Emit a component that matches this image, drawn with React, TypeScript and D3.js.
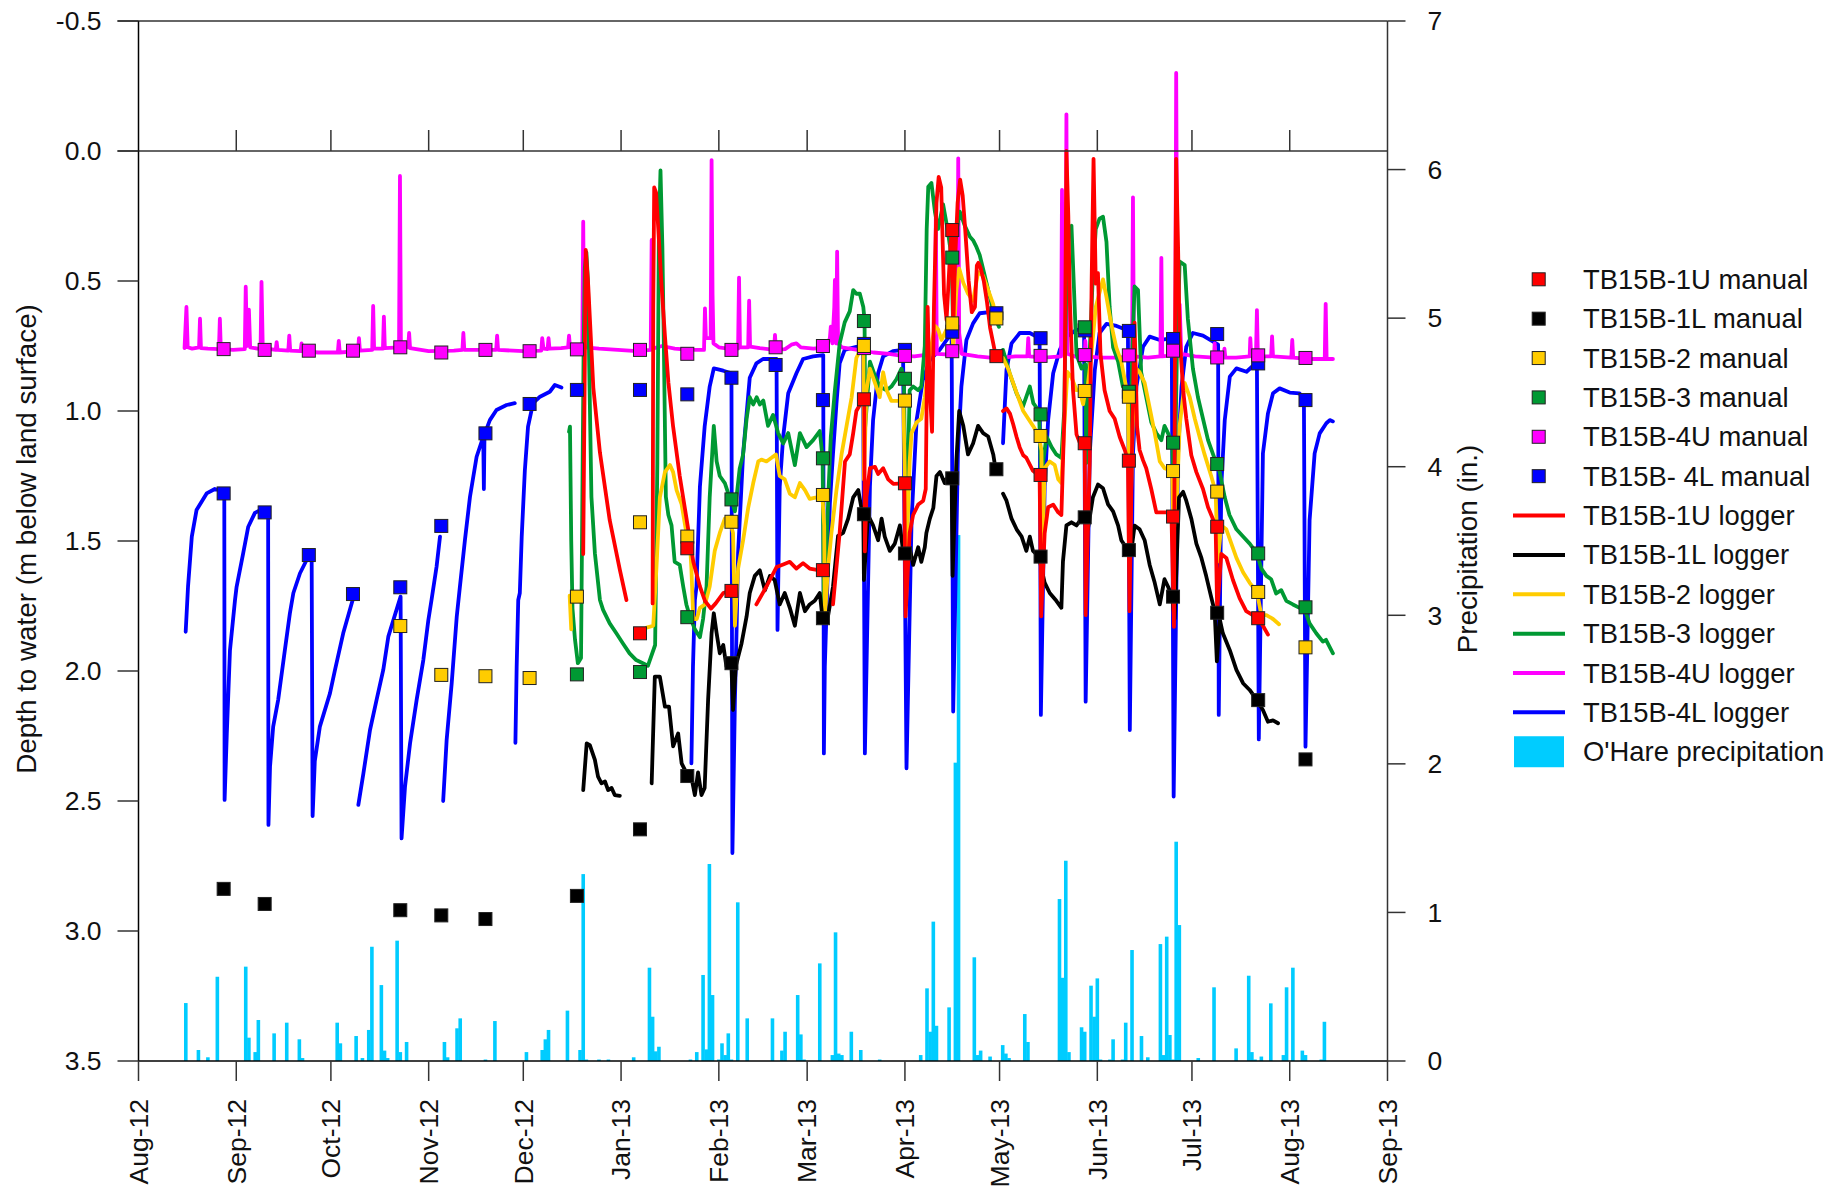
import React from 'react';
import * as d3 from 'd3';

// Groundwater depth at TB15B wells, Aug 2012 - Aug 2013
// logger/precip times are days after 1 Aug 2012

const manualDates = ['2012-08-28', '2012-09-10', '2012-09-24', '2012-10-08', '2012-10-23', '2012-11-05', '2012-11-19', '2012-12-03', '2012-12-18', '2013-01-07', '2013-01-22', '2013-02-05', '2013-02-19', '2013-03-06', '2013-03-19', '2013-04-01', '2013-04-16', '2013-04-30', '2013-05-14', '2013-05-28', '2013-06-11', '2013-06-25', '2013-07-09', '2013-07-22', '2013-08-06'];

const manual1U = [null, null, null, null, null, null, null, null, null, 1.855, 1.528, 1.692, null, 1.612, 0.955, 1.278, 0.304, 0.789, 1.246, 1.124, 1.191, 1.406, 1.445, 1.797, null];
const manual1L = [2.838, 2.896, null, null, 2.92, 2.94, 2.954, null, 2.865, 2.609, 2.404, 1.97, null, 1.797, 1.397, 1.548, 1.259, 1.224, 1.56, 1.409, 1.535, 1.714, 1.776, 2.112, 2.34];
const manual2 = [null, null, null, null, 1.827, 2.015, 2.02, 2.027, 1.714, 1.428, 1.483, 1.426, null, 1.323, 0.75, 0.96, 0.663, 0.644, 1.096, 0.923, 0.945, 1.231, 1.31, 1.696, 1.909];
const manual3 = [null, null, null, null, null, null, null, null, 2.013, 2.004, 1.793, 1.34, null, 1.182, 0.654, 0.876, 0.41, null, 1.013, 0.678, 0.926, 1.122, 1.204, 1.548, 1.755];
const manual4U = [0.762, 0.765, 0.768, 0.768, 0.755, 0.775, 0.765, 0.77, 0.763, 0.765, 0.78, 0.765, 0.755, 0.75, 0.758, 0.788, 0.77, null, 0.788, 0.785, 0.786, 0.768, 0.794, 0.786, 0.796];
const manual4L = [1.317, 1.39, 1.554, 1.704, 1.678, 1.442, 1.086, 0.973, 0.919, 0.919, 0.936, 0.872, 0.823, 0.958, 0.742, 0.765, 0.695, 0.624, 0.72, 0.69, 0.692, 0.723, 0.704, 0.817, 0.958];

const logger4L = [
  [[14.96, 1.849], [15.7, 1.676], [16.9, 1.483], [18.4, 1.381], [21.6, 1.317], [24.2, 1.3], [27.2, 1.31], [27.3, 2.496], [28, 2.24], [29, 1.92], [30.6, 1.727], [31.1, 1.676], [33.2, 1.547], [34.8, 1.445], [36.9, 1.392], [39.6, 1.375], [41.1, 1.38], [41.2, 2.592], [41.7, 2.368], [42.7, 2.214], [44.3, 2.11], [46.4, 1.92], [48, 1.778], [49.1, 1.7], [51.2, 1.624], [53.3, 1.573], [54.9, 1.56], [55.2, 2.558], [55.9, 2.346], [57.5, 2.214], [60.7, 2.086], [62.3, 1.996], [64.9, 1.855], [67.9, 1.727]],
  [[69.7, 2.515], [71.3, 2.394], [73.4, 2.227], [75.5, 2.11], [77.6, 1.996], [79.2, 1.868], [81.8, 1.765], [83.1, 1.714], [83.4, 2.644], [84.5, 2.445], [86.1, 2.278], [88.2, 2.11], [90.3, 1.958], [91.9, 1.804], [92.9, 1.727], [94.5, 1.599], [95.6, 1.483]],
  [[96.6, 2.5], [97.7, 2.265], [99.3, 2.047], [100.9, 1.791], [101.9, 1.676], [103.5, 1.496], [105.1, 1.33], [107.2, 1.176], [109.3, 1.099], [109.5, 1.3], [109.7, 1.09], [111.4, 1.035], [113.5, 0.996], [116.7, 0.977], [119.3, 0.97]],
  [[119.5, 2.276], [119.9, 1.983], [120.4, 1.727], [120.9, 1.7], [121.5, 1.483], [122.5, 1.227], [123.5, 1.06], [125.1, 0.97], [127.3, 0.945], [130.4, 0.926], [132, 0.9], [134.1, 0.91]],
  [[175.3, 2.355], [175.8, 1.983], [176.4, 1.727], [176.9, 1.676], [178, 1.291], [179.5, 1.06], [181.1, 0.906], [182.4, 0.836], [183.8, 0.84], [185.4, 0.845], [188, 0.855], [188.3, 2.7], [189.1, 2.11], [189.6, 1.855], [190.1, 1.547], [191.7, 1.163], [193.8, 0.872], [195.9, 0.817], [198, 0.8], [200.2, 0.8], [202.3, 0.8], [202.6, 1.842], [203.3, 1.291], [204.4, 1.099], [206, 0.932], [208.6, 0.855], [210.7, 0.8], [213.9, 0.79], [217.1, 0.785], [217.3, 2.317], [217.6, 1.983], [219.2, 1.355], [220.2, 1.163], [221.3, 0.97], [222.3, 0.817], [223.9, 0.765], [227.6, 0.753], [229.7, 0.75], [230.3, 2.317], [231.9, 1.29], [232.9, 1.035], [234.5, 0.855], [236.1, 0.79], [239.2, 0.77], [242.4, 0.765], [243.5, 2.374], [245.1, 1.42], [246.7, 1.035], [248.7, 0.88], [250.9, 0.804], [254, 0.765], [257.8, 0.7], [258.3, 2.156], [259.8, 1.163], [260.9, 0.906], [262.5, 0.727], [264.6, 0.663], [266.7, 0.624], [269.9, 0.62], [271.7, 0.62]],
  [[274.1, 1.124], [275.2, 0.842], [276.8, 0.74], [279.4, 0.7], [282.6, 0.7], [285.7, 0.72], [286.1, 2.169], [287.3, 1.29], [288.4, 1.035], [290, 0.855], [292.1, 0.765], [294.2, 0.714], [297.4, 0.688], [299.8, 0.685], [300.3, 2.118], [301.6, 1.163], [303.2, 0.842], [304.7, 0.7], [306.9, 0.665], [310.1, 0.673], [313.7, 0.69], [314.3, 2.227], [315.3, 1.163], [316.4, 0.906], [318.5, 0.753], [320.6, 0.714], [323.8, 0.727], [327.6, 0.72], [328.2, 2.483], [329.6, 1.163], [330.7, 0.906], [332.2, 0.753], [334.3, 0.7], [337.5, 0.71], [340.7, 0.733], [342.3, 0.745], [342.5, 2.169], [343.3, 1.29], [344.4, 1.035], [346, 0.868], [348.1, 0.836], [351.3, 0.849], [353.3, 0.827], [354.6, 0.817], [355.2, 2.263], [356.5, 1.163], [358.1, 1.009], [359.7, 0.932], [361.8, 0.913], [365, 0.929], [368.1, 0.932], [369.5, 0.958], [370, 2.291], [371.3, 1.42], [372.9, 1.163], [374.5, 1.086], [376.6, 1.047], [377.7, 1.035], [378.7, 1.04]]
];

const logger4U = [
  [[14.6, 0.758], [15.2, 0.6], [15.6, 0.755], [17, 0.76], [19.2, 0.755], [19.5, 0.645], [19.8, 0.758], [22, 0.76], [25.5, 0.762], [25.8, 0.645], [26.1, 0.762], [30, 0.765], [33.7, 0.762], [34, 0.522], [34.4, 0.75], [35, 0.61], [35.4, 0.755], [38.7, 0.762], [39, 0.503], [39.4, 0.758], [43.5, 0.765], [43.8, 0.735], [44.1, 0.765], [47.5, 0.768], [47.8, 0.71], [48.1, 0.768], [51.4, 0.77], [51.7, 0.74], [52, 0.77], [57, 0.775], [63.2, 0.775], [63.5, 0.73], [63.8, 0.775], [69.6, 0.77], [69.9, 0.72], [70.2, 0.768], [74.1, 0.765], [74.4, 0.596], [74.7, 0.76], [77.5, 0.76], [77.8, 0.637], [78.1, 0.758], [82.6, 0.755], [82.9, 0.096], [83.2, 0.752], [85.5, 0.755], [85.8, 0.7], [86.1, 0.758], [92, 0.77], [100, 0.768], [102.7, 0.765], [103, 0.7], [103.3, 0.765], [108, 0.765], [113.4, 0.765], [113.7, 0.71], [114, 0.765], [122, 0.77], [127.7, 0.768], [128, 0.72], [128.4, 0.76], [129.7, 0.762], [130, 0.72], [130.3, 0.76], [134, 0.758], [136.2, 0.755], [136.5, 0.71], [136.8, 0.755], [140.7, 0.758], [141, 0.272], [141.3, 0.73], [141.6, 0.755], [146, 0.76], [152, 0.765], [158, 0.77], [162.4, 0.765], [162.7, 0.342], [163, 0.76], [166, 0.75], [170, 0.76], [175, 0.765], [179.3, 0.765], [179.6, 0.605], [179.9, 0.72], [181.4, 0.72], [181.7, 0.035], [182, 0.55], [182.3, 0.74], [184, 0.755], [188, 0.762], [190.1, 0.76], [190.4, 0.487], [190.7, 0.755], [193.3, 0.755], [193.6, 0.576], [193.9, 0.752], [197, 0.758], [201.5, 0.765], [201.8, 0.707], [202.1, 0.765], [205, 0.762], [207, 0.745], [208.6, 0.74], [210, 0.755], [214, 0.76], [218, 0.755], [219.2, 0.72], [219.5, 0.676], [220, 0.74], [220.6, 0.6], [220.8, 0.496], [221.2, 0.74], [221.5, 0.387], [221.8, 0.74], [223, 0.755], [228, 0.765], [233, 0.775], [238, 0.78], [242, 0.788], [246, 0.79], [249, 0.785], [252.5, 0.78], [252.8, 0.25], [253.1, 0.78], [256, 0.782], [259.6, 0.78], [259.9, 0.028], [260.2, 0.7], [261, 0.78], [266, 0.79], [270, 0.795], [274, 0.795], [278, 0.79], [281.8, 0.79], [282.1, 0.72], [282.4, 0.79], [287, 0.795], [292.5, 0.79], [292.8, 0.15], [293.1, 0.78], [293.9, 0.78], [294.2, -0.141], [294.5, 0.78], [298, 0.795], [300, 0.79], [300.2, 0.73], [300.5, 0.79], [305, 0.795], [310, 0.795], [315, 0.79], [315.3, 0.178], [315.6, 0.79], [320, 0.795], [324, 0.79], [324.3, 0.411], [324.6, 0.79], [328.7, 0.785], [329, -0.3], [329.4, 0.77], [330.1, 0.59], [330.6, 0.78], [335, 0.79], [341, 0.795], [341.2, 0.74], [341.5, 0.795], [344, 0.795], [344.3, 0.76], [344.6, 0.795], [348, 0.795], [352.3, 0.79], [352.5, 0.72], [352.8, 0.79], [354.3, 0.79], [354.6, 0.612], [354.9, 0.79], [359.1, 0.79], [359.4, 0.713], [359.7, 0.79], [365.5, 0.795], [365.8, 0.727], [366.1, 0.795], [371, 0.8], [376.1, 0.8], [376.4, 0.588], [376.7, 0.8], [378.7, 0.8]]
];

const logger3 = [
  [[136.5, 1.08], [136.8, 1.06], [137.2, 1.5], [137.6, 1.76], [138.4, 1.88], [139.3, 1.97], [140.3, 1.95], [141.1, 0.8], [141.5, 0.45], [142, 0.39], [142.5, 0.5], [143, 0.9], [143.6, 1.33], [144.7, 1.547], [146.3, 1.727], [147.3, 1.765], [149.4, 1.817], [151.5, 1.855], [153.6, 1.894], [155.7, 1.932], [157.8, 1.958], [159.9, 1.97], [161.5, 1.98], [163.8, 1.9], [164.5, 1.2], [165, 0.3], [165.5, 0.075], [166.1, 0.37], [166.6, 0.78], [167.2, 1.33], [168, 1.4], [169, 1.44], [170, 1.58], [171.6, 1.592], [172.7, 1.675], [173.7, 1.744], [174.8, 1.79], [176.4, 1.84], [178, 1.87], [179, 1.8], [180.1, 1.675], [181.1, 1.332], [182.4, 1.057], [183.3, 1.194], [184.3, 1.25], [185.9, 1.277], [187, 1.318], [188, 1.34], [189.1, 1.386], [190.6, 1.222], [191.7, 1.167], [192.8, 1.03], [193.8, 0.947], [194.9, 0.975], [196, 0.947], [197, 0.975], [198.1, 0.96], [199.6, 1.057], [201.2, 1.015], [202.8, 1.085], [204.4, 1.125], [206, 1.085], [208.1, 1.208], [209.7, 1.085], [211.8, 1.139], [213.9, 1.112], [216, 1.077], [216.9, 1.18], [217.3, 1.8], [218.8, 1.3], [219.5, 1.1], [220.8, 0.92], [222.3, 0.741], [223.9, 0.659], [225.5, 0.617], [226.6, 0.535], [227.6, 0.549], [228.7, 0.549], [229.8, 0.6], [230.2, 0.65], [230.4, 1.06], [231.9, 0.81], [233.5, 0.865], [235, 0.906], [237.2, 0.92], [238.7, 0.906], [240.3, 0.878], [241.9, 0.837], [242.7, 0.87], [243.3, 1.58], [244.5, 0.92], [245.6, 0.906], [247.2, 0.92], [248.2, 0.906], [249.3, 0.75], [249.9, 0.3], [250.4, 0.137], [251.4, 0.123], [252.5, 0.233], [253.5, 0.3], [255.1, 0.205], [256.5, 0.3], [257.8, 0.41], [258.3, 0.7], [258.8, 0.343], [260.4, 0.233], [262, 0.288], [263.6, 0.33], [264.6, 0.343], [265.7, 0.37], [266.7, 0.4], [268.3, 0.48], [269.9, 0.56], [271.5, 0.64], [272.8, 0.676]],
  [[274.1, 0.765], [276.2, 0.855], [278.4, 0.932], [280.4, 0.983], [282.6, 0.906], [283.7, 0.97], [285.5, 1.0], [286.2, 1.25], [287.9, 1.098], [289.5, 1.139], [291, 1.167], [292.6, 1.18], [293.5, 1.0], [294.4, 0.35], [294.7, 0.3], [295.8, 0.288], [296.5, 0.5], [297.4, 0.782], [299, 0.837], [300.2, 0.82], [300.5, 1.2], [301.5, 0.8], [302.5, 0.5], [303.5, 0.3], [304.7, 0.26], [305.8, 0.253], [306.9, 0.35], [307.9, 0.6], [309, 0.755], [310.6, 0.81], [312.1, 0.906], [313.7, 0.93], [314.3, 1.3], [315, 0.8], [315.8, 0.521], [316.9, 0.535], [317.9, 0.851], [319.5, 0.947], [321.1, 1.043], [322.7, 1.085], [324.3, 1.112], [325.3, 1.057], [326.4, 1.085], [327.7, 1.12], [328.4, 1.4], [329.2, 0.8], [330.1, 0.425], [331.7, 0.439], [332.7, 0.645], [334.3, 0.837], [335.9, 0.947], [337.5, 1.03], [339.1, 1.112], [340.7, 1.167], [341.7, 1.2], [342.8, 1.235], [344.4, 1.332], [345.9, 1.4], [348.1, 1.455], [350.2, 1.483], [352.3, 1.51], [354.6, 1.548], [356, 1.606], [357.6, 1.634], [359.1, 1.647], [360.7, 1.702], [362.3, 1.689], [363.9, 1.73], [366, 1.744], [368.1, 1.757], [369.5, 1.755], [371.3, 1.817], [373.4, 1.855], [375.5, 1.887], [376.5, 1.88], [378.7, 1.932]]
];

const logger2 = [
  [[136.7, 1.71], [137.2, 1.84]],
  [[161.1, 1.833], [163.2, 1.826], [164.2, 1.606], [165.3, 1.332], [166.9, 1.235], [168.5, 1.208], [169.5, 1.235], [170.6, 1.304], [172.2, 1.359], [173.7, 1.469], [174.8, 1.5], [175.3, 1.606], [175.9, 1.8], [177, 1.8], [178, 1.757], [179.6, 1.744], [181.1, 1.675], [182.7, 1.538], [184.3, 1.469], [185.9, 1.414], [187.5, 1.42], [188.5, 1.469], [189.1, 1.826], [190.1, 1.606], [191.7, 1.497], [193.3, 1.373], [194.9, 1.277], [196.5, 1.194], [197.5, 1.187], [199.1, 1.194], [200.7, 1.18], [202.1, 1.167], [203.3, 1.25], [204.9, 1.263], [206.5, 1.318], [208.1, 1.332], [209.7, 1.277], [211.3, 1.304], [212.8, 1.338], [215, 1.332], [216.8, 1.323], [217.4, 1.44], [217.6, 1.8], [218.6, 1.606], [219.7, 1.469], [221.3, 1.304], [222.9, 1.167], [224.5, 1.057], [226.1, 0.947], [227.6, 0.796], [229.2, 0.755], [229.8, 0.755], [230, 1.263], [230.8, 0.92], [231.9, 0.837], [233.5, 0.892], [235, 0.947], [236.1, 0.851], [237.2, 0.92], [238.7, 0.961], [240.3, 0.961], [242.5, 0.96], [243.5, 1.579], [244.5, 1.194], [245.1, 1.085], [246.7, 1.043], [248.2, 1.03], [249.3, 0.947], [250.9, 0.782], [252.5, 0.672], [253.5, 0.686], [254.6, 0.727], [256.2, 0.686], [257.8, 0.663], [258.3, 0.75], [259.3, 0.535], [260.2, 0.452], [261.5, 0.507], [263, 0.549], [264.6, 0.576], [266.2, 0.466], [267.8, 0.48], [269.4, 0.535], [271, 0.59], [271.7, 0.64]],
  [[274.1, 0.796], [275.7, 0.837], [277.3, 0.892], [278.9, 0.947], [280.5, 1.0], [282.1, 1.03], [283.6, 1.057], [285.5, 1.096], [286.3, 1.153], [286.6, 1.58], [287.3, 1.22], [288.9, 1.194], [290.5, 1.208], [291.6, 1.263], [292.6, 1.277], [293.4, 1.085], [294.5, 0.85], [295.8, 0.87], [297.4, 0.92], [298.4, 0.92], [299.5, 0.974], [300.2, 0.92], [301, 0.9], [302.1, 0.782], [303.5, 0.6], [305.8, 0.494], [306.9, 0.562], [307.9, 0.631], [309, 0.7], [310, 0.755], [311.6, 0.81], [313.7, 0.945], [314.3, 1.5], [315.3, 1.03], [316.4, 0.837], [317.4, 0.851], [319, 0.892], [320.6, 0.988], [322.2, 1.085], [323.8, 1.194], [325.3, 1.22], [327.7, 1.231], [328.4, 1.6], [330.1, 1.057], [331.7, 0.892], [333.3, 0.947], [334.9, 1.03], [336.4, 1.098], [338, 1.167], [340.1, 1.25], [341.5, 1.31], [342.2, 1.579], [343.3, 1.441], [344.9, 1.455], [346.5, 1.51], [348.1, 1.565], [350.2, 1.62], [352.3, 1.661], [354.6, 1.696], [356, 1.785], [357.6, 1.785], [359.7, 1.8], [361.6, 1.82]]
];

const logger1L = [
  [[141, 2.458], [142.1, 2.278], [143.1, 2.285], [144.7, 2.342], [145.7, 2.406], [146.8, 2.432], [147.9, 2.425], [148.9, 2.458], [150, 2.45], [151, 2.477], [152.6, 2.48]],
  [[162.7, 2.432], [163.7, 2.022], [165.3, 2.022], [166.9, 2.137], [168.2, 2.137], [169.5, 2.29], [171.1, 2.24], [172.2, 2.355], [173.8, 2.394], [175, 2.39], [176.4, 2.477], [177.4, 2.39], [178.5, 2.477], [179.5, 2.45], [180.6, 2.11], [181.7, 1.855], [182.4, 1.778], [183.3, 1.855], [184.3, 1.932], [185.4, 1.9], [186.4, 1.983], [187.9, 1.95], [188.5, 2.15], [189.4, 1.98], [191.2, 1.894], [192.8, 1.79], [193.8, 1.7], [195.4, 1.634], [197, 1.613], [198.6, 1.69], [200.2, 1.634], [201.7, 1.65], [203.3, 1.744], [204.9, 1.7], [206.5, 1.757], [208.1, 1.826], [209.7, 1.7], [211.3, 1.77], [212.8, 1.744], [214.4, 1.73], [216, 1.7], [216.9, 1.8], [218.6, 1.79], [220.2, 1.675], [221.8, 1.48], [223.4, 1.469], [225, 1.414], [226.6, 1.332], [228.2, 1.304], [229.2, 1.373], [229.8, 1.39], [230, 1.65], [231.3, 1.4], [232.9, 1.44], [234.5, 1.497], [235.6, 1.414], [236.6, 1.483], [238.2, 1.538], [239.8, 1.51], [241.4, 1.44], [242.4, 1.538], [243.5, 1.565], [244.5, 1.524], [245.6, 1.592], [247.2, 1.524], [248.2, 1.58], [249.3, 1.524], [249.8, 1.469], [250.9, 1.414], [252, 1.373], [253, 1.25], [254.1, 1.235], [255.6, 1.277], [256.7, 1.25], [257.8, 1.25], [258.1, 1.634], [259.3, 1.194], [260.2, 1.0], [261.5, 1.057], [263, 1.167], [264.6, 1.125], [266.2, 1.057], [267.8, 1.085], [269.4, 1.098], [271, 1.167], [271.7, 1.22]],
  [[274.1, 1.318], [275.2, 1.345], [276.8, 1.414], [278.4, 1.455], [280, 1.483], [281.5, 1.538], [282.6, 1.483], [283.6, 1.538], [285.5, 1.56], [286.3, 1.606], [287.3, 1.66], [288.9, 1.7], [291, 1.73], [292.6, 1.757], [293.1, 1.579], [294.2, 1.44], [295.8, 1.428], [297.4, 1.44], [299, 1.414], [300, 1.41], [301, 1.455], [302.6, 1.332], [304.2, 1.283], [305.8, 1.297], [307.4, 1.359], [309, 1.386], [310.6, 1.441], [311.6, 1.497], [313.7, 1.535], [314.8, 1.538], [315.8, 1.441], [317.4, 1.455], [319, 1.497], [320.6, 1.592], [322.2, 1.661], [323.8, 1.744], [325.3, 1.647], [326.4, 1.675], [327.7, 1.714], [328.5, 1.8], [329.9, 1.332], [331.2, 1.311], [332.2, 1.345], [333.8, 1.414], [335.4, 1.51], [337, 1.565], [338.5, 1.634], [340.1, 1.716], [341.2, 1.77], [341.9, 1.963], [342.8, 1.8], [343.8, 1.855], [346, 1.92], [348.1, 1.996], [350.2, 2.047], [352.3, 2.073], [354.6, 2.112], [356.5, 2.15], [358.1, 2.195], [359.7, 2.19], [361.3, 2.201]]
];

const logger1U = [
  [[141, 1.55], [141.8, 0.38], [142.6, 0.52], [144.2, 0.91], [146.3, 1.16], [149.4, 1.42], [152.6, 1.61], [154.7, 1.727]],
  [[163, 1.74], [163.2, 0.6], [163.5, 0.14], [164.1, 0.16], [164.8, 0.3], [165.8, 0.51], [166.9, 0.71], [168, 0.89], [169.5, 1.06], [171.6, 1.25], [173.7, 1.41], [175.9, 1.58], [178, 1.675], [179.6, 1.73], [181.5, 1.76], [183, 1.74], [185.4, 1.7], [188, 1.69]],
  [[195.9, 1.744], [199.1, 1.675], [202.3, 1.6], [204.4, 1.59], [206.5, 1.58], [208.6, 1.606], [210.7, 1.585], [212.8, 1.606], [216, 1.613]],
  [[220.2, 1.744], [222.3, 1.469], [224, 1.194], [225.5, 1.167], [226.6, 1.085], [227.6, 1.0], [229.5, 0.96], [230.1, 0.95], [230.3, 1.54], [230.8, 1.33], [231.9, 1.22], [233.5, 1.215], [234.5, 1.242], [236.1, 1.22], [237.7, 1.263], [239.3, 1.28], [242.8, 1.278], [243.2, 1.79], [244.5, 1.469], [245.6, 1.4], [247.2, 1.36], [248.8, 1.345], [249.6, 1.3], [250.2, 0.6], [250.8, 0.9], [251.6, 1.08], [252.2, 0.6], [253, 0.2], [253.7, 0.1], [254.5, 0.14], [255.4, 0.55], [256.2, 0.65], [257.5, 0.35], [258, 0.3], [258.3, 0.7], [258.8, 0.45], [259.7, 0.2], [260.5, 0.11], [261.3, 0.17], [262.1, 0.3], [263.2, 0.5], [264.2, 0.62], [265.2, 0.6], [265.8, 0.44], [266.3, 0.43], [267, 0.45], [268, 0.5], [269, 0.58], [270, 0.68], [271, 0.74], [271.8, 0.79]],
  [[274.1, 1.0], [275.2, 0.99], [276.3, 1.01], [277.3, 1.05], [278.4, 1.1], [279.4, 1.14], [280.5, 1.17], [281.5, 1.18], [283.6, 1.23], [285.7, 1.25], [286.2, 1.79], [287.3, 1.47], [288.4, 1.37], [290, 1.36], [291.6, 1.39], [292.6, 1.4], [293.6, 1.0], [294.2, 0.0], [294.8, 0.25], [295.3, 0.58], [296.3, 0.92], [297.4, 1.09], [299, 1.14], [300, 1.13], [300.3, 1.785], [301.6, 1.19], [302.2, 0.5], [302.8, 0.03], [303.5, 0.51], [304.2, 0.47], [305, 0.78], [306.3, 0.92], [307.9, 1.0], [309.5, 1.03], [311.1, 1.1], [312.7, 1.15], [313.7, 1.19], [314.2, 1.77], [315.1, 1.06], [315.8, 0.66], [316.6, 1.06], [317.4, 1.15], [318.5, 1.19], [319.5, 1.22], [321.1, 1.3], [322.7, 1.39], [324.3, 1.39], [325.9, 1.39], [327.5, 1.4], [328.3, 1.83], [328.6, 0.8], [329, 0.03], [329.6, 0.37], [330.1, 0.71], [331.2, 0.92], [332.2, 1.03], [333.8, 1.17], [335.4, 1.235], [337.5, 1.3], [339.1, 1.37], [341.5, 1.44], [342, 1.77], [343.3, 1.55], [344.9, 1.565], [347, 1.65], [349.1, 1.72], [351.2, 1.77], [353.3, 1.785], [355, 1.8], [356.5, 1.826], [358.1, 1.86]]
];

// O'Hare daily precipitation (in.)
const precip = [[15, 0.39], [19, 0.074], [22, 0.025], [25, 0.567], [34, 0.635], [35, 0.157], [37, 0.06], [38, 0.276], [43, 0.186], [47, 0.258], [51, 0.146], [52, 0.02], [63, 0.258], [64, 0.119], [69, 0.168], [71, 0.02], [73, 0.209], [74, 0.769], [77, 0.511], [78, 0.07], [79, 0.02], [82, 0.81], [83, 0.06], [85, 0.128], [97, 0.128], [98, 0.025], [101, 0.22], [102, 0.287], [110, 0.01], [113, 0.269], [123, 0.06], [128, 0.074], [129, 0.146], [130, 0.209], [136, 0.339], [140, 0.074], [141, 1.258], [142, 0.01], [146, 0.01], [149, 0.01], [157, 0.025], [162, 0.628], [163, 0.298], [164, 0.065], [165, 0.096], [175, 0.01], [177, 0.06], [179, 0.579], [180, 0.078], [181, 1.326], [182, 0.444], [184, 0.01], [185, 0.119], [186, 0.04], [187, 0.186], [188, 0.01], [190, 1.068], [193, 0.287], [201, 0.287], [204, 0.07], [205, 0.197], [209, 0.444], [210, 0.179], [211, 0.01], [216, 0.657], [220, 0.04], [221, 0.866], [222, 0.05], [223, 0.04], [226, 0.197], [229, 0.074], [235, 0.01], [248, 0.04], [250, 0.489], [251, 0.197], [252, 0.938], [253, 0.237], [257, 0.361], [259, 2.008], [260, 3.54], [265, 0.698], [266, 0.04], [267, 0.07], [270, 0.03], [274, 0.107], [275, 0.05], [276, 0.02], [281, 0.316], [282, 0.128], [292, 1.09], [293, 0.56], [294, 1.348], [295, 0.06], [299, 0.227], [300, 0.197], [302, 0.507], [303, 0.298], [304, 0.556], [305, 0.01], [308, 0.01], [309, 0.146], [312, 0.01], [313, 0.258], [315, 0.747], [318, 0.168], [320, 0.025], [324, 0.787], [325, 0.04], [326, 0.837], [327, 0.175], [328, 0.01], [329, 1.476], [330, 0.915], [336, 0.02], [341, 0.496], [348, 0.085], [352, 0.574], [353, 0.06], [354, 0.01], [356, 0.03], [359, 0.388], [363, 0.04], [364, 0.496], [366, 0.628], [369, 0.07], [370, 0.04], [375, 0.01], [376, 0.264]];

const depthTicks = [-0.5, 0, 0.5, 1, 1.5, 2, 2.5, 3, 3.5];
const precipTicks = [0, 1, 2, 3, 4, 5, 6, 7];

const colors = { u1: '#ff0000', l1: '#000000', w2: '#ffcc00', w3: '#009933', u4: '#ff00ff', l4: '#0000ff', rain: '#00ccff' };

const FONT = "'Liberation Sans', Arial, Helvetica, sans-serif";
const t0 = Date.UTC(2012, 7, 1);
const dayToDate = (d: number) => new Date(t0 + d * 864e5);
const parseDate = d3.utcParse('%Y-%m-%d');

export default function App() {
  const W = 1847, H = 1194;
  const left = 138.5, right = 1387.5, top = 21, bottom = 1061;

  const x = d3.scaleUtc().domain([new Date(t0), new Date(Date.UTC(2013, 8, 1))]).range([left, right]);
  const y = d3.scaleLinear().domain([-0.5, 3.5]).range([top, bottom]);
  const yP = d3.scaleLinear().domain([0, 7]).range([bottom, top]);
  const months = d3.utcMonth.range(new Date(t0), new Date(Date.UTC(2013, 8, 2)));
  const fmtMonth = d3.utcFormat('%b-%y');
  const fmtDepth = (t: number) => t.toFixed(1);
  const y0 = y(0);

  const line = d3.line<number[]>().x(p => x(dayToDate(p[0]))).y(p => y(p[1]));

  const loggers = [
    { segs: logger4L, color: colors.l4 },
    { segs: logger4U, color: colors.u4 },
    { segs: logger3, color: colors.w3 },
    { segs: logger2, color: colors.w2 },
    { segs: logger1L, color: colors.l1 },
    { segs: logger1U, color: colors.u1 },
  ];
  const manuals = [
    { vals: manual4L, color: colors.l4 },
    { vals: manual4U, color: colors.u4 },
    { vals: manual3, color: colors.w3 },
    { vals: manual2, color: colors.w2 },
    { vals: manual1L, color: colors.l1 },
    { vals: manual1U, color: colors.u1 },
  ];

  const legend = [
    { label: 'TB15B-1U manual', color: colors.u1, kind: 'sq' },
    { label: 'TB15B-1L manual', color: colors.l1, kind: 'sq' },
    { label: 'TB15B-2 manual', color: colors.w2, kind: 'sq' },
    { label: 'TB15B-3 manual', color: colors.w3, kind: 'sq' },
    { label: 'TB15B-4U manual', color: colors.u4, kind: 'sq' },
    { label: 'TB15B- 4L manual', color: colors.l4, kind: 'sq' },
    { label: 'TB15B-1U logger', color: colors.u1, kind: 'line' },
    { label: 'TB15B-1L logger', color: colors.l1, kind: 'line' },
    { label: 'TB15B-2 logger', color: colors.w2, kind: 'line' },
    { label: 'TB15B-3 logger', color: colors.w3, kind: 'line' },
    { label: 'TB15B-4U logger', color: colors.u4, kind: 'line' },
    { label: 'TB15B-4L logger', color: colors.l4, kind: 'line' },
    { label: "O'Hare precipitation", color: colors.rain, kind: 'bar' },
  ];

  const sq = 13;
  const axisColor = '#333';

  return (
    <svg width={W} height={H} style={{ position: 'absolute', left: 0, top: 0, background: '#fff' }} fontFamily={FONT}>
      <rect x={0} y={0} width={W} height={H} fill="#fff" />

      {/* precipitation bars */}
      <g>
        {precip.map(([d, p], i) => (
          <rect key={i} x={x(dayToDate(d)) - 1.8} width={3.6} y={yP(p)} height={bottom - yP(p)} fill={colors.rain} />
        ))}
      </g>

      {/* logger lines */}
      <g fill="none" strokeWidth={3.8} strokeLinejoin="round" strokeLinecap="round">
        {loggers.map((s, i) => s.segs.map((seg, j) => (
          <path key={`${i}-${j}`} d={line(seg) || ''} stroke={s.color} />
        )))}
      </g>

      {/* manual measurements */}
      <g>
        {manuals.map((s, i) => s.vals.map((v, j) => v == null ? null : (
          <rect key={`${i}-${j}`} x={x(parseDate(manualDates[j])!) - sq / 2} y={y(v) - sq / 2} width={sq} height={sq}
            fill={s.color} stroke="#222" strokeWidth={1} />
        )))}
      </g>

      {/* frame */}
      <g stroke={axisColor} strokeWidth={1.5} fill="none">
        <line x1={left - 21} x2={right} y1={top} y2={top} />
        <line x1={left - 21} x2={right} y1={y0} y2={y0} />
        <line x1={left} x2={left} y1={top} y2={bottom} stroke="#000" />
        <line x1={left} x2={right} y1={bottom} y2={bottom} stroke="#000" />
        <line x1={right} x2={right} y1={top} y2={bottom} />
        {depthTicks.map(t => <line key={t} x1={left - 21} x2={left} y1={y(t)} y2={y(t)} />)}
        {precipTicks.map(t => <line key={t} x1={right} x2={right + 18} y1={yP(t)} y2={yP(t)} />)}
        {months.map((m, i) => <line key={i} x1={x(m)} x2={x(m)} y1={bottom} y2={bottom + 20} />)}
        {months.slice(1, -1).map((m, i) => <line key={'t' + i} x1={x(m)} x2={x(m)} y1={y0 - 21} y2={y0} />)}
      </g>

      {/* tick labels */}
      <g fill="#111">
        {depthTicks.map(t => (
          <text key={t} x={left - 37} y={y(t)} dy="0.35em" textAnchor="end" fontSize={26.5}>{fmtDepth(t)}</text>
        ))}
        {precipTicks.map(t => (
          <text key={t} x={right + 40} y={yP(t)} dy="0.35em" textAnchor="start" fontSize={26.5}>{t}</text>
        ))}
        {months.map((m, i) => (
          <text key={i} transform={`translate(${x(m)},${bottom + 38}) rotate(-90)`} dy="0.35em" textAnchor="end" fontSize={26.5}>{fmtMonth(m)}</text>
        ))}
      </g>

      {/* axis titles */}
      <text transform="translate(26,539) rotate(-90)" dy="0.35em" textAnchor="middle" fontSize={27.8} fill="#111">
        Depth to water (m below land surface)
      </text>
      <text transform="translate(1467,549) rotate(-90)" dy="0.35em" textAnchor="middle" fontSize={27.8} fill="#111">
        Precipitation (in.)
      </text>

      {/* legend */}
      <g>
        {legend.map((e, i) => {
          const cy = 279.3 + i * 39.37;
          return (
            <g key={i}>
              {e.kind === 'sq' && <rect x={1538.7 - 6.5} y={cy - 6.5} width={13} height={13} fill={e.color} stroke="#222" strokeWidth={1} />}
              {e.kind === 'line' && <line x1={1513} x2={1565} y1={cy} y2={cy} stroke={e.color} strokeWidth={4} />}
              {e.kind === 'bar' && <rect x={1514} y={cy - 15.5} width={50} height={31} fill={e.color} />}
              <text x={1583} y={cy} dy="0.35em" fontSize={27.4} fill="#111">{e.label}</text>
            </g>
          );
        })}
      </g>
    </svg>
  );
}
